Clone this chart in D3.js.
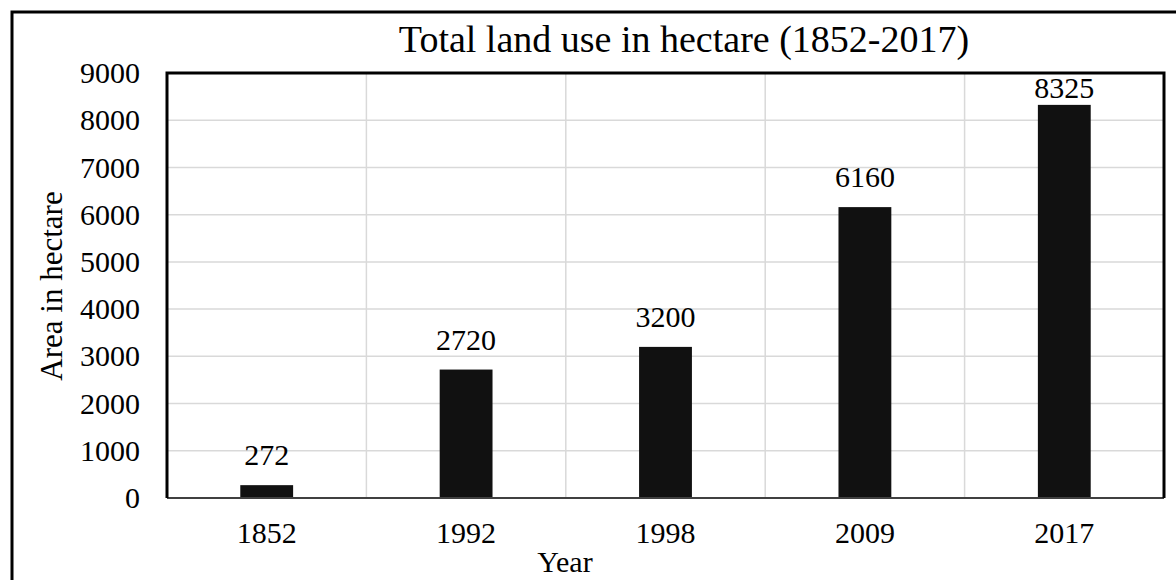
<!DOCTYPE html>
<html>
<head>
<meta charset="utf-8">
<script src="https://cdn.jsdelivr.net/npm/d3@7"></script>
<style>
  body { margin: 0; background: #fff; }
  svg text { font-family: "Liberation Serif", "Times New Roman", serif !important; fill: #000; }
</style>
</head>
<body>
<div id="chart"></div>
<script>
// dados
var years = ["1852", "1992", "1998", "2009", "2017"];
var areas = [272, 2720, 3200, 6160, 8325];
var yTicks = [0, 1000, 2000, 3000, 4000, 5000, 6000, 7000, 8000, 9000];

var W = 1176, H = 580;
var pLeft = 167, pRight = 1164, pTop = 73, pBottom = 498;
var serif = '"Liberation Serif", "Times New Roman", serif';

var svg = d3.select('#chart').append('svg')
  .attr('width', W)
  .attr('height', H)
  .style('display', 'block')
  .style('font-family', serif);

// moldura externa (sai da imagem à direita e embaixo)
svg.append('rect')
  .attr('x', 12).attr('y', 12)
  .attr('width', 1200).attr('height', 620)
  .attr('fill', 'none')
  .attr('stroke', '#000')
  .attr('stroke-width', 3);

var x = d3.scaleBand()
  .domain(years)
  .range([pLeft, pRight])
  .paddingInner(0.735)
  .paddingOuter(0.735 / 2);

var y = d3.scaleLinear()
  .domain([0, 9000])
  .range([pBottom, pTop]);

// grade horizontal
svg.append('g')
  .selectAll('line')
  .data(yTicks.filter(function (d) { return d > 0 && d < 9000; }))
  .join('line')
  .attr('x1', pLeft).attr('x2', pRight)
  .attr('y1', function (d) { return y(d); })
  .attr('y2', function (d) { return y(d); })
  .attr('stroke', '#d9d9d9')
  .attr('stroke-width', 1.5);

// grade vertical nas divisões das categorias
svg.append('g')
  .selectAll('line')
  .data(years.slice(1))
  .join('line')
  .attr('x1', function (d) { return x(d) - x.step() * x.paddingInner() / 2; })
  .attr('x2', function (d) { return x(d) - x.step() * x.paddingInner() / 2; })
  .attr('y1', pTop).attr('y2', pBottom)
  .attr('stroke', '#d9d9d9')
  .attr('stroke-width', 1.5);

// barras
svg.append('g')
  .selectAll('rect')
  .data(areas)
  .join('rect')
  .attr('x', function (d, i) { return x(years[i]); })
  .attr('width', x.bandwidth())
  .attr('y', function (d) { return y(d); })
  .attr('height', function (d) { return pBottom - y(d); })
  .attr('fill', '#111');

// rótulos dos valores
svg.append('g')
  .selectAll('text')
  .data(areas)
  .join('text')
  .attr('x', function (d, i) { return x(years[i]) + x.bandwidth() / 2; })
  .attr('y', function (d) { return Math.max(y(d) - 20, pTop + 25); })
  .attr('text-anchor', 'middle')
  .attr('font-family', serif)
  .attr('font-size', 30)
  .text(function (d) { return d; });

// eixo Y
var yAxis = svg.append('g')
  .attr('transform', 'translate(' + pLeft + ',0)')
  .call(d3.axisLeft(y).tickValues(yTicks).tickFormat(d3.format('d')).tickSize(0).tickPadding(27));
yAxis.attr('font-family', serif);
yAxis.select('.domain').remove();
yAxis.selectAll('text')
  .attr('font-size', 30)
  .attr('fill', '#000');

// eixo X
var xAxis = svg.append('g')
  .attr('transform', 'translate(0,' + pBottom + ')')
  .call(d3.axisBottom(x).tickSize(0).tickPadding(24));
xAxis.attr('font-family', serif);
xAxis.select('.domain').remove();
xAxis.selectAll('text')
  .attr('font-size', 30)
  .attr('fill', '#000');

// borda da área do gráfico
svg.append('line')
  .attr('x1', pLeft).attr('x2', pRight)
  .attr('y1', pBottom).attr('y2', pBottom)
  .attr('stroke', '#404040')
  .attr('stroke-width', 2);
svg.append('path')
  .attr('d', 'M' + pLeft + ',' + pBottom + 'V' + pTop + 'H' + pRight + 'V' + pBottom)
  .attr('fill', 'none')
  .attr('stroke', '#000')
  .attr('stroke-width', 3);

// título
svg.append('text')
  .attr('x', 684)
  .attr('y', 52)
  .attr('text-anchor', 'middle')
  .attr('font-size', 38)
  .text('Total land use in hectare (1852-2017)');

// títulos dos eixos
svg.append('text')
  .attr('x', 565)
  .attr('y', 572)
  .attr('text-anchor', 'middle')
  .attr('font-size', 30)
  .text('Year');

svg.append('text')
  .attr('transform', 'translate(62,286) rotate(-90)')
  .attr('text-anchor', 'middle')
  .attr('font-size', 31)
  .text('Area in hectare');
</script>
</body>
</html>
